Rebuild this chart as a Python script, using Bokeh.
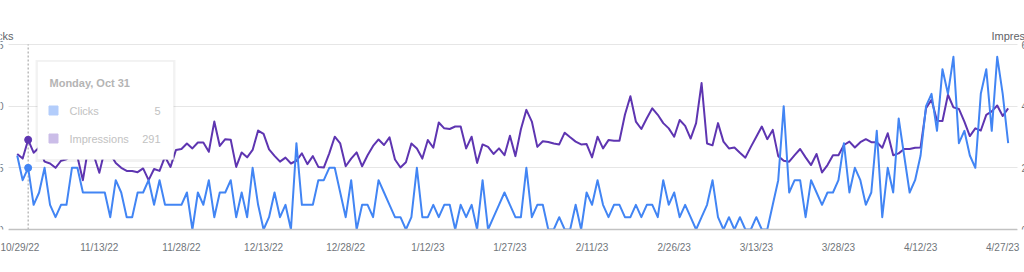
import pandas as pd
from bokeh.plotting import figure
from bokeh.models import (Range1d, FixedTicker, CustomJSTickFormatter,
                          BoxAnnotation, Label, Grid)
from bokeh.embed import file_html
from bokeh.resources import INLINE

# ---------------- data ----------------
start_date = "2022-10-29"
clicks = [
    6, 4, 5, 2, 3, 5, 2, 1, 2, 2, 5, 5, 3, 3, 3, 3, 3, 1, 4, 3, 1, 1, 3, 3, 4, 2, 4, 2, 2, 2, 2, 3, 0, 3, 2, 4, 1,
    3, 3, 4, 1, 3, 1, 5, 2, 0, 1, 3, 1, 2, 0, 7, 2, 2, 2, 4, 4, 5, 5, 3, 1, 4, 0, 2, 2, 1, 4, 3, 2, 1, 1, 0, 1, 5,
    1, 1, 2, 1, 2, 2, 0, 2, 1, 2, 0, 4, 0, 1, 2, 3, 2, 1, 1, 5, 1, 2, 2, 0, 0, 1, 0, 0, 2, 0, 3, 2, 4, 2, 1, 2,
    2, 1, 1, 2, 1, 2, 2, 1, 4, 2, 3, 1, 2, 1, 0, 1, 2, 4, 1, 0, 1, 0, 1, 0, 0, 1, 0, 0, 2, 4, 10,
    3, 4, 4, 1, 4, 3, 2, 3, 3, 4, 7, 3, 5, 4, 2, 3, 8, 1, 5, 3, 9, 6, 3, 4, 6, 10, 11, 8, 13, 11, 14, 7, 8, 6, 5,
    11, 13, 8, 14, 11, 7,
]
impressions = [
    245, 230, 291, 249, 266, 220, 214, 200, 223, 228, 241, 236, 160, 268, 240, 184, 258, 245, 216, 200, 190, 190,
    186, 198, 160, 196, 190, 236, 203, 258, 261, 279, 263, 282, 282, 252, 350,
    271, 293, 291, 203, 250, 234, 258, 321, 310, 260, 239, 220, 233, 214, 223, 247, 212, 238, 203, 201, 247, 301,
    279, 205, 230, 250, 205, 241, 271, 292, 274, 299, 227, 201, 218, 279, 263,
    230, 290, 265, 347, 328, 326, 334, 334, 263, 301, 216, 276, 268, 245, 263, 241, 304, 238, 325, 388, 350, 268,
    286, 284, 279, 276, 314, 299, 285, 276, 277, 234, 301, 263, 290, 288,
    288, 372, 432, 350, 326, 361, 393, 372, 345, 328, 301, 355, 336, 295, 345, 475, 279, 273, 345, 285, 263, 266,
    249, 233, 268, 301, 334, 293, 323, 238, 223, 220, 241, 261, 234, 209, 245,
    185, 209, 241, 241, 274, 285, 266, 283, 293, 283, 283, 265, 312, 241, 247, 261, 261, 265, 266, 393, 421, 353,
    352, 437, 396, 391, 350, 303, 328, 321, 372, 383, 402, 368, 393,
]
x_tick_labels = ["10/29/22", "11/13/22", "11/28/22", "12/13/22", "12/28/22", "1/12/23", "1/27/23",
                 "2/11/23", "2/26/23", "3/13/23", "3/28/23", "4/12/23", "4/27/23"]
click_ticks = [0, 5, 10, 15]
impression_ticks = [0, 200, 400, 600]
series_names = ["Clicks", "Impressions"]
hover_index = 2

dates = pd.date_range(start_date, periods=len(clicks), freq="D")
tick_dates = pd.to_datetime(x_tick_labels, format="%m/%d/%y")
tick_ms = [int(t.value // 10**6) for t in tick_dates]

# ---------------- layout constants (pixels) ----------------
W, H = 1024, 272
PLOT_L, PLOT_R, PLOT_T, PLOT_B = 8, 1017, 44, 229   # visible chart area
PX_PER_DAY = 5.475
FIRST_PX = 16.7
DAY = 86400000.0
t0 = dates[0].value / 1e6
x_start = t0 - FIRST_PX / PX_PER_DAY * DAY
x_end = x_start + W / PX_PER_DAY * DAY
px_per_click = (PLOT_B - PLOT_T) / click_ticks[-1]
y_top = PLOT_B / px_per_click
imp_scale = impression_ticks[-1] / click_ticks[-1]
FONT = "Liberation Sans"
BLUE = "#4285f4"
PURPLE = "#5e35b1"
GREY = "#70757a"


def xpx(px):
    return x_start + px / W * (x_end - x_start)


def yc(py):
    return (PLOT_B - py) / px_per_click


p = figure(width=W, height=H, x_axis_type="datetime", y_axis_location=None,
           x_range=Range1d(x_start, x_end), y_range=Range1d(0, y_top),
           output_backend="svg", toolbar_location=None,
           min_border_left=0, min_border_right=0, min_border_top=0, min_border_bottom=H - PLOT_B)
p.extra_y_ranges = {"imp": Range1d(0, y_top * imp_scale)}
p.outline_line_color = None
p.background_fill_color = "white"
p.border_fill_color = "white"
p.xgrid.visible = False
if len(p.ygrid) == 0:
    p.add_layout(Grid(dimension=1, ticker=FixedTicker(ticks=click_ticks)))
p.ygrid.ticker = FixedTicker(ticks=click_ticks)
p.ygrid.grid_line_color = "#e6e6e6"
p.ygrid.grid_line_width = 1

xa = p.xaxis[0]
xa.ticker = FixedTicker(ticks=tick_ms)
xa.formatter = CustomJSTickFormatter(args=dict(tvals=tick_ms, tlabels=x_tick_labels),
                                     code="const i = tvals.indexOf(tick); return i >= 0 ? tlabels[i] : '';")
xa.bounds = (xpx(PLOT_L), xpx(PLOT_R))
xa.major_tick_in = 0
xa.major_tick_out = 0
xa.minor_tick_in = 0
xa.minor_tick_out = 0
xa.axis_line_color = "#c2c2c2"
xa.axis_line_width = 1.5
xa.major_label_standoff = 12
xa.major_label_text_font = FONT
xa.major_label_text_font_size = "10px"
xa.major_label_text_color = GREY

# hover guide (drawn below the series)
hx = dates[hover_index]
p.segment(x0=[hx], y0=[0], x1=[hx], y1=[click_ticks[-1]], line_color="#9a9a9a",
          line_dash="2 2", line_width=1)

# series
p.line(dates, impressions, y_range_name="imp", line_color=PURPLE, line_width=2, line_join="round")
p.line(dates, clicks, line_color=BLUE, line_width=2, line_join="round")
p.scatter([hx], [impressions[hover_index]], y_range_name="imp", size=7, color=PURPLE)
p.scatter([hx], [clicks[hover_index]], size=7, color=BLUE)

# white margins so grid lines stop where the reference's do
p.add_layout(BoxAnnotation(right=xpx(PLOT_L), fill_color="white", fill_alpha=1.0, line_color=None))
p.add_layout(BoxAnnotation(left=xpx(PLOT_R), fill_color="white", fill_alpha=1.0, line_color=None))

# y tick labels (cut by the window edge as in the reference)
for v in click_ticks:
    p.add_layout(Label(x=xpx(3), y=v, text=str(v), text_align="right", text_baseline="middle",
                       text_font=FONT, text_font_size="10px", text_color=GREY))
for v in impression_ticks:
    p.add_layout(Label(x=xpx(1021), y=v, y_range_name="imp", text=str(v), text_align="left",
                       text_baseline="middle", text_font=FONT, text_font_size="10px", text_color=GREY))

# axis titles
p.add_layout(Label(x=xpx(13), y=yc(35), text=series_names[0], text_align="right",
                   text_baseline="alphabetic", text_font=FONT, text_font_size="11px", text_color="#5f6368"))
p.add_layout(Label(x=xpx(991), y=yc(35), text=series_names[1], text_align="left",
                   text_baseline="alphabetic", text_font=FONT, text_font_size="11px", text_color="#5f6368"))

# tooltip card
p.add_layout(BoxAnnotation(left=xpx(35), right=xpx(175), top=yc(59.5), bottom=yc(161.5),
                           fill_color="#000000", fill_alpha=0.05, line_color=None))
p.add_layout(BoxAnnotation(left=xpx(37), right=xpx(173), top=yc(61), bottom=yc(159),
                           fill_color="white", fill_alpha=1.0, line_color="#e3e3e3", line_width=1))
p.add_layout(Label(x=xpx(49), y=yc(82), text=hx.strftime("%A, %b %-d"), text_align="left",
                   text_baseline="middle", text_font=FONT, text_font_size="11px",
                   text_font_style="bold", text_color="#b4b4b4"))
p.scatter([xpx(53)], [yc(110)], marker="square", size=9, color="#b3cdfb", level="overlay")
p.scatter([xpx(53)], [yc(138)], marker="square", size=9, color="#cbbde8", level="overlay")
p.add_layout(Label(x=xpx(69), y=yc(110), text=series_names[0], text_align="left", text_baseline="middle",
                   text_font=FONT, text_font_size="11px", text_color="#c2c2c2"))
p.add_layout(Label(x=xpx(160), y=yc(110), text=str(clicks[hover_index]), text_align="right",
                   text_baseline="middle", text_font=FONT, text_font_size="11px", text_color="#c2c2c2"))
p.add_layout(Label(x=xpx(69), y=yc(138), text=series_names[1], text_align="left", text_baseline="middle",
                   text_font=FONT, text_font_size="11px", text_color="#c2c2c2"))
p.add_layout(Label(x=xpx(160), y=yc(138), text=str(impressions[hover_index]), text_align="right",
                   text_baseline="middle", text_font=FONT, text_font_size="11px", text_color="#c2c2c2"))

open("out.html", "w").write(file_html(p, INLINE))
